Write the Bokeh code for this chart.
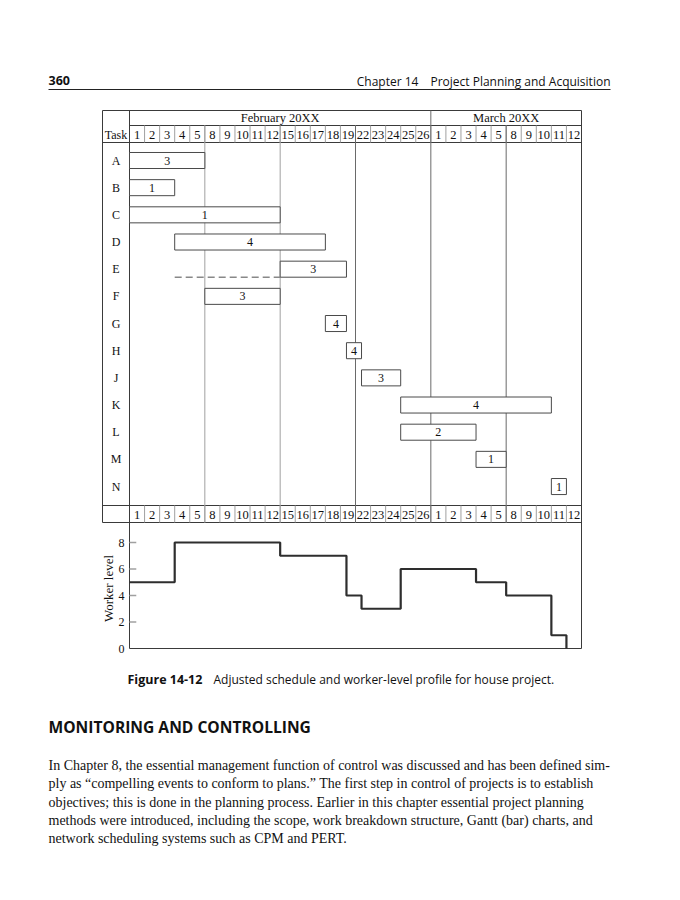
from bokeh.plotting import figure
from bokeh.models import Range1d
from bokeh.core.properties import value
from bokeh.embed import file_html
from bokeh.resources import INLINE

# ---------------- data ----------------
month_labels = ["February 20XX", "March 20XX"]
feb_days = [1, 2, 3, 4, 5, 8, 9, 10, 11, 12, 15, 16, 17, 18, 19, 22, 23, 24, 25, 26]
mar_days = [1, 2, 3, 4, 5, 8, 9, 10, 11, 12]
tasks = ["A", "B", "C", "D", "E", "F", "G", "H", "J", "K", "L", "M", "N"]
# start / end in working-day columns (0 = Feb 1)
task_start = [0, 0, 0, 3, 10, 5, 13, 14.4, 15.4, 18, 18, 23, 28]
task_end = [5, 3, 10, 13, 14.4, 10, 14.4, 15.4, 18, 28, 23, 25, 29]
task_workers = [3, 1, 1, 4, 3, 3, 4, 4, 3, 4, 2, 1, 1]
slack_task = "E"
slack_start = 3
level_x = [0, 3, 10, 14.4, 15.4, 18, 23, 25, 28, 29]
level_y = [5, 8, 7, 4, 3, 6, 5, 4, 1, 0]
level_ticks = [0, 2, 4, 6, 8]

header_left = "360"
header_right = "Chapter 14\u2003Project Planning and Acquisition"
caption_bold = "Figure 14-12"
caption_text = "Adjusted schedule and worker-level profile for house project."
heading = "MONITORING AND CONTROLLING"
paragraph = [
    "In Chapter 8, the essential management function of control was discussed and has been defined sim-",
    "ply as \u201ccompelling events to conform to plans.\u201d The first step in control of projects is to establish",
    "objectives; this is done in the planning process. Earlier in this chapter essential project planning",
    "methods were introduced, including the scope, work breakdown structure, Gantt (bar) charts, and",
    "network scheduling systems such as CPM and PERT.",
]

# ---------------- layout (page pixels) ----------------
W, H = 664, 884
OX, OY = 0, 0
GRID_L, GRID_R = 129, 581
TABLE_L = 102
TOP_Y, MONTH_Y, DAYHDR_Y = 110, 125, 142
BOT_ROW_T, BOT_ROW_B = 505, 522
ROW0_Y, ROW_H = 160, 27.17
ZERO_Y, LEVEL_PX = 648, 13.25

ncol = len(feb_days) + len(mar_days)
colw = (GRID_R - GRID_L) / ncol

SERIF = value("Liberation Serif")
SANS = value("Open Sans")
DARK = "#3a3a3a"
MID = "#6a6a6a"
LIGHT = "#a0a0a0"

p = figure(width=W, height=H,
           x_range=Range1d((OX - GRID_L) / colw, (OX + W - GRID_L) / colw),
           y_range=Range1d(OY + H, OY),
           output_backend="svg", toolbar_location=None, min_border=0,
           x_axis_type=None, y_axis_type=None)
p.outline_line_color = None
p.background_fill_color = "white"
p.border_fill_color = "white"
p.extra_x_ranges = {"px": Range1d(OX, OX + W)}
p.extra_y_ranges = {
    "rows": Range1d((OY + H - ROW0_Y) / ROW_H, (OY - ROW0_Y) / ROW_H),
    "level": Range1d((ZERO_Y - (OY + H)) / LEVEL_PX, (ZERO_Y - OY) / LEVEL_PX),
}

# ---------------- page header ----------------
p.text(x=[48], y=[80], text=[header_left], x_range_name="px", text_font=SANS,
       text_font_style="bold", text_font_size="12.5px", text_baseline="middle",
       text_align="left", text_color="#111")
p.text(x=[610], y=[81], text=[header_right], x_range_name="px", text_font=SANS,
       text_font_size="12px", text_baseline="middle", text_align="right",
       text_color="#111")
p.segment(x0=[48], y0=[89], x1=[610], y1=[89], x_range_name="px",
          line_color="#222", line_width=1)

# ---------------- table frame ----------------
hx0 = [TABLE_L, TABLE_L, GRID_L, TABLE_L, TABLE_L]
hy = [TOP_Y, DAYHDR_Y, MONTH_Y, BOT_ROW_T, BOT_ROW_B]
hx1 = [GRID_R] * 5
p.segment(x0=hx0, y0=hy, x1=hx1, y1=hy, x_range_name="px",
          line_color=DARK, line_width=1)
p.segment(x0=[TABLE_L, GRID_R], y0=[TOP_Y, TOP_Y], x1=[TABLE_L, GRID_R],
          y1=[BOT_ROW_B, ZERO_Y], x_range_name="px", line_color=DARK, line_width=1)
# task column / level axis line
p.segment(x0=[0], y0=[TOP_Y], x1=[0], y1=[ZERO_Y], line_color=DARK, line_width=1)

# day separators in the two day rows
seps = [c for c in range(1, ncol)]
p.segment(x0=seps, y0=[MONTH_Y] * len(seps), x1=seps, y1=[DAYHDR_Y] * len(seps),
          line_color=LIGHT, line_width=1)
p.segment(x0=seps, y0=[BOT_ROW_T] * len(seps), x1=seps, y1=[BOT_ROW_B] * len(seps),
          line_color=LIGHT, line_width=1)
# week lines
weeks = [5, 10, 15, 25]
week_cols = [LIGHT, LIGHT, MID, MID]
p.segment(x0=weeks, y0=[MONTH_Y] * 4, x1=weeks, y1=[BOT_ROW_B] * 4,
          line_color=week_cols, line_width=1)
mb = len(feb_days)
p.segment(x0=[mb], y0=[TOP_Y], x1=[mb], y1=[BOT_ROW_B], line_color=MID, line_width=1)

# month and day labels
p.text(x=[mb / 2, mb + len(mar_days) / 2], y=[117.5, 117.5], text=month_labels,
       text_font=SERIF, text_font_size="12.5px", text_align="center",
       text_baseline="middle", text_color="#111")
day_labels = [str(d) for d in feb_days + mar_days]
centers = [c + 0.5 for c in range(ncol)]
for yy in [134, 514]:
    p.text(x=centers, y=[yy] * ncol, text=day_labels, text_font=SERIF,
           text_font_size="12.5px", text_align="center", text_baseline="middle",
           text_color="#111")
p.text(x=[115.5], y=[134], text=["Task"], x_range_name="px", text_font=SERIF,
       text_font_size="12px", text_align="center", text_baseline="middle",
       text_color="#111")

# row labels
rows = list(range(len(tasks)))
p.text(x=[115.5] * len(tasks), y=rows, text=tasks, x_range_name="px",
       y_range_name="rows", text_font=SERIF, text_font_size="12px",
       text_align="center", text_baseline="middle", text_color="#111")

# bars
bh = 0.295
p.quad(left=task_start, right=task_end, top=[r - bh for r in rows],
       bottom=[r + bh for r in rows], y_range_name="rows",
       fill_color="white", line_color="#4a4a4a", line_width=1)
p.text(x=[(s + e) / 2 for s, e in zip(task_start, task_end)], y=rows,
       text=[str(w) for w in task_workers], y_range_name="rows",
       text_font=SERIF, text_font_size="12px", text_align="center",
       text_baseline="middle", text_color="#111")
ei = tasks.index(slack_task)
p.segment(x0=[slack_start], y0=[ei + bh], x1=[task_start[ei]], y1=[ei + bh],
          y_range_name="rows", line_color="#888888", line_width=1.6,
          line_dash="7 4")

# ---------------- worker level profile ----------------
p.segment(x0=[0], y0=[0], x1=[ncol], y1=[0], y_range_name="level",
          line_color=DARK, line_width=1)
tk = [t for t in level_ticks if t > 0]
p.segment(x0=[0] * len(tk), y0=tk, x1=[0.45] * len(tk), y1=tk,
          y_range_name="level", line_color=LIGHT, line_width=1.5)
p.text(x=[124] * len(level_ticks), y=level_ticks,
       text=[str(t) for t in level_ticks], x_range_name="px",
       y_range_name="level", text_font=SERIF, text_font_size="12px",
       text_align="right", text_baseline="middle", text_color="#111")
p.text(x=[108], y=[588], text=["Worker level"], x_range_name="px",
       text_font=SERIF, text_font_size="13px", text_align="center",
       text_baseline="middle", angle=1.5708, text_color="#111")
p.step(x=level_x, y=level_y, mode="after", y_range_name="level",
       line_color="#2e2e2e", line_width=2.2)

# ---------------- caption, heading, paragraph ----------------
p.text(x=[127], y=[679], text=[caption_bold], x_range_name="px", text_font=SANS,
       text_font_style="bold", text_font_size="12.5px", text_align="left",
       text_baseline="middle", text_color="#111")
p.text(x=[213], y=[679], text=[caption_text], x_range_name="px", text_font=SANS,
       text_font_size="12px", text_align="left", text_baseline="middle",
       text_color="#111")
p.text(x=[48], y=[726], text=[heading], x_range_name="px", text_font=SANS,
       text_font_style="bold", text_font_size="15.6px", text_align="left",
       text_baseline="middle", text_color="#111")
p.text(x=[48] * len(paragraph), y=[765 + 18.3 * i for i in range(len(paragraph))],
       text=paragraph, x_range_name="px", text_font=SERIF,
       text_font_size="14px", text_align="left", text_baseline="middle",
       text_color="#111")

open("out.html", "w").write(file_html(p, INLINE))
